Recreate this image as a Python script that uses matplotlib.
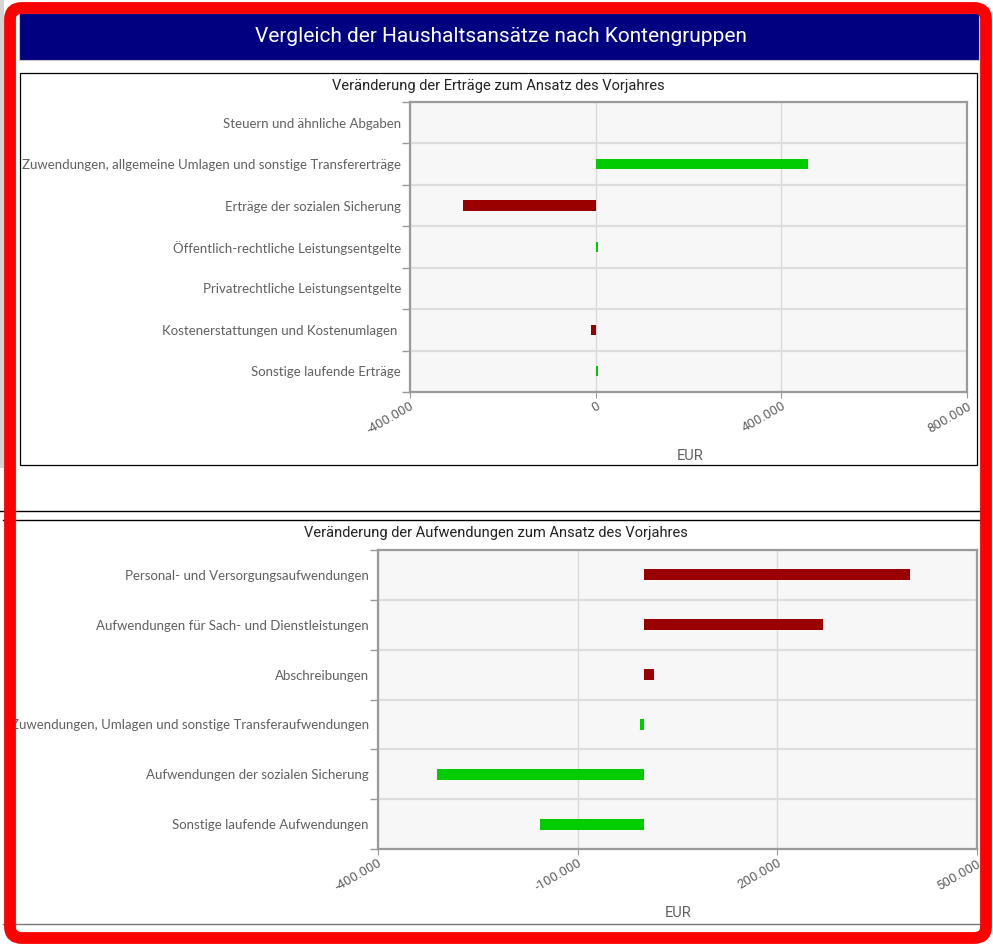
import matplotlib
matplotlib.use("Agg")
import matplotlib.pyplot as plt
from matplotlib.patches import Rectangle, FancyBboxPatch
from matplotlib.lines import Line2D
from matplotlib.ticker import FuncFormatter, FixedLocator

# ---------------- data ----------------
haupttitel = "Vergleich der Haushaltsansätze nach Kontengruppen"

ertraege_titel = "Veränderung der Erträge zum Ansatz des Vorjahres"
ertraege_kategorien = [
    "Steuern und ähnliche Abgaben",
    "Zuwendungen, allgemeine Umlagen und sonstige Transfererträge",
    "Erträge der sozialen Sicherung",
    "Öffentlich-rechtliche Leistungsentgelte",
    "Privatrechtliche Leistungsentgelte",
    "Kostenerstattungen und Kostenumlagen ",
    "Sonstige laufende Erträge",
]
ertraege_werte = [0, 457000, -286000, 5000, 0, -10000, 6000]
ertraege_ticks = [-400000, 0, 400000, 800000]

aufwand_titel = "Veränderung der Aufwendungen zum Ansatz des Vorjahres"
aufwand_kategorien = [
    "Personal- und Versorgungsaufwendungen",
    "Aufwendungen für Sach- und Dienstleistungen",
    "Abschreibungen",
    "Zuwendungen, Umlagen und sonstige Transferaufwendungen",
    "Aufwendungen der sozialen Sicherung",
    "Sonstige laufende Aufwendungen",
]
aufwand_werte = [399000, 268000, 14000, -6000, -311000, -156000]
aufwand_ticks = [-400000, -100000, 200000, 500000]

einheit = "EUR"

GREEN = "#00cc00"
DARKRED = "#990000"

# ---------------- figure helpers ----------------
W, H = 993, 944
fig = plt.figure(figsize=(W / 100, H / 100), dpi=100)
fig.patch.set_facecolor("white")


def fx(x):
    return x / W


def fy(y):
    return 1 - y / H


def axes_px(x0, y0, x1, y1):
    return fig.add_axes([fx(x0), fy(y1), (x1 - x0) / W, (y1 - y0) / H])


def rect_px(x0, y0, x1, y1, **kw):
    r = Rectangle((fx(x0), fy(y1)), (x1 - x0) / W, (y1 - y0) / H,
                  transform=fig.transFigure, **kw)
    fig.add_artist(r)
    return r


def hline_px(x0, x1, y, **kw):
    fig.add_artist(Line2D([fx(x0), fx(x1)], [fy(y), fy(y)],
                          transform=fig.transFigure, **kw))


fmt = FuncFormatter(lambda v, _: f"{int(round(v)):,}".replace(",", "."))

TXT = "#222222"
LBL = "#606060"


def draw_chart(ax, cats, vals, ticks, pos_color, neg_color, bar_h):
    n = len(cats)
    ypos = list(range(n))
    colors = [pos_color if v >= 0 else neg_color for v in vals]
    ax.set_facecolor("#f7f7f7")
    ax.barh(ypos, vals, height=bar_h, color=colors, zorder=3, linewidth=0)
    ax.set_xlim(ticks[0], ticks[-1])
    ax.set_ylim(n - 0.5, -0.5)
    ax.xaxis.set_major_locator(FixedLocator(ticks))
    ax.xaxis.set_major_formatter(fmt)
    ax.set_yticks(ypos)
    ax.set_yticklabels(cats, fontsize=9.5, color=LBL, family="Lato")
    ax.yaxis.set_minor_locator(FixedLocator([i - 0.5 for i in range(n + 1)]))
    ax.tick_params(axis="y", which="major", length=0, pad=6.5)
    ax.tick_params(axis="y", which="minor", length=6, color="#999999",
                   width=1)
    ax.tick_params(axis="x", which="major", length=4, color="#999999",
                   labelsize=9.5, labelcolor=LBL, pad=1.5)
    for lab in ax.get_xticklabels():
        lab.set_rotation(30)
        lab.set_ha("right")
        lab.set_rotation_mode("anchor")
        lab.set_family("Roboto")
    ax.grid(True, axis="x", which="major", color="#d9d9d9", lw=1, zorder=1)
    ax.grid(True, axis="y", which="minor", color="#dddddd", lw=1.6, zorder=1)
    ax.set_axisbelow(True)
    for s in ax.spines.values():
        s.set_color("#9a9a9a")
        s.set_linewidth(1.6)


# ---------------- header ----------------
rect_px(0, 0, 4, 468, facecolor="#d4d4d4", edgecolor="none", zorder=0)
rect_px(19, 13, 979, 60, facecolor="#000080", edgecolor="#c8c8c8",
        linewidth=0.8, zorder=1)
fig.text(fx(501), fy(37), haupttitel, color="white", fontsize=15,
         family="Roboto", ha="center", va="center")

# ---------------- top panel ----------------
rect_px(20, 73, 977, 465, facecolor="none", edgecolor="black", linewidth=0.9,
        zorder=1)
fig.text(fx(498), fy(86), ertraege_titel, color=TXT, fontsize=10.5,
         family="Roboto", ha="center", va="center")
ax1 = axes_px(410, 102, 967, 392)
draw_chart(ax1, ertraege_kategorien, ertraege_werte, ertraege_ticks,
           GREEN, DARKRED, 0.25)
fig.text(fx(690), fy(456), einheit, color=LBL, fontsize=10.5, family="Roboto",
         ha="center", va="center")

# ---------------- bottom panel ----------------
hline_px(0, 985, 511, color="black", lw=1.0)
hline_px(3, 985, 520, color="black", lw=1.0)
hline_px(3, 985, 924, color="#777777", lw=1.0)
fig.text(fx(496), fy(533), aufwand_titel, color=TXT, fontsize=10.5,
         family="Roboto", ha="center", va="center")
ax2 = axes_px(378, 550, 977, 849)
draw_chart(ax2, aufwand_kategorien, aufwand_werte, aufwand_ticks,
           DARKRED, GREEN, 0.22)
fig.text(fx(678), fy(913), einheit, color=LBL, fontsize=10.5, family="Roboto",
         ha="center", va="center")

# ---------------- red frame ----------------
frame = FancyBboxPatch((fx(10), fy(938)), (986 - 10) / W, (938 - 8) / H,
                       boxstyle="round,pad=0,rounding_size=0.012",
                       transform=fig.transFigure, facecolor="none",
                       edgecolor="#ff0000", linewidth=8.5, zorder=50)
fig.add_artist(frame)

fig.savefig("out.png", dpi=100)
